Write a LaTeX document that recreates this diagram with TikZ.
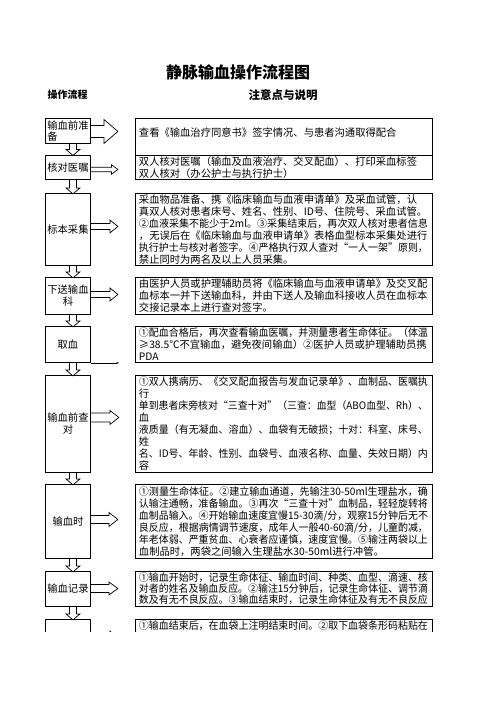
\documentclass[tikz,border=0pt]{standalone}
\usepackage{fontspec}
\usepackage{graphicx}
\setmainfont{Noto Sans CJK SC}
\usetikzlibrary{arrows.meta,positioning,calc}
\newcommand{\hollowright}[5]{%
 \draw[arrowline] ($(#1)+(0,-#3)$) -- ++({#2-#5},0) -- ++(0,{#3-#4}) -- ++(#5,#4) -- ++(-#5,#4) -- ++(0,{#3-#4}) -- ++({#5-#2},0);}
\newcommand{\hollowdown}[5]{%
 \draw[arrowline] ($(#1)+(-#3,0)$) -- ++(0,{#2-#5}) -- ++({#3-#4},0) -- ++(#4,#5) -- ++(#4,-#5) -- ++({#3-#4},0) -- ++(0,{#5-#2});}
\newcommand{\fitrow}[1]{\resizebox{\ifdim\width>289pt 289pt\else\width\fi}{\height}{#1}}

\begin{document}
\begin{tikzpicture}[x=1pt,y=-1pt,>=stealth,
 lbox/.style={draw,line width=0.9pt,minimum width=45pt,inner sep=1pt,anchor=north west,font=\fontsize{10.3}{12}\selectfont,align=center},
 rbox/.style={draw,line width=0.9pt,minimum width=297pt,text width=290pt,inner xsep=3pt,inner ysep=0pt,anchor=north west,font=\fontsize{10.3}{12}\selectfont,align=left},
 arrowline/.style={line width=0.7pt}]
 \useasboundingbox (0,0) rectangle (496,702);
 \node (title) at (238,72) {\fontsize{16}{16}\selectfont\bfseries 静脉输血操作流程图};
 \node (hflow) at (67.5,95) {\fontsize{10}{10}\selectfont\bfseries 操作流程};
 \node (hnote) at (283,95) {\fontsize{11.5}{11.5}\selectfont\bfseries 注意点与说明};

 \node[lbox,minimum height=25pt,align=left] (lb1) at (45,118) {输血前准\\[-1.5pt]备};
 \node[lbox,minimum height=24pt] (lb2) at (45,155) {核对医嘱};
 \node[lbox,minimum height=72pt] (lb3) at (45,193) {标本采集};
 \node[lbox,minimum height=37pt] (lb4) at (45,277) {下送输血\\科};
 \node[lbox,minimum height=36pt] (lb5) at (45,326) {取血};
 \node[lbox,minimum height=97pt] (lb6) at (45,375) {输血前查\\对};
 \node[lbox,minimum height=74pt] (lb7) at (45,484) {输血时};
 \node[lbox,minimum height=35pt] (lb8) at (45,571) {输血记录};

 \node[rbox,minimum height=37pt] (rb1) at (135,118) {\fitrow{查看《输血治疗同意书》签字情况、与患者沟通取得配合}\\[-3pt]\mbox{}};
 \node[rbox,minimum height=24pt] (rb2) at (135,155) {\fitrow{双人核对医嘱（输血及血液治疗、交叉配血）、打印采血标签}\\
 \fitrow{双人核对（办公护士与执行护士）}};
 \node[rbox,minimum height=72pt] (rb3) at (135,193) {\fitrow{采血物品准备、携《临床输血与血液申请单》及采血试管，认}\\
 \fitrow{真双人核对患者床号、姓名、性别、ID号、住院号、采血试管。}\\
 \fitrow{②血液采集不能少于2ml。③采集结束后，再次双人核对患者信息}\\
 \fitrow{，无误后在《临床输血与血液申请单》表格血型标本采集处进行}\\
 \fitrow{执行护士与核对者签字。④严格执行双人查对“一人一架”原则，}\\
 \fitrow{禁止同时为两名及以上人员采集。}};
 \node[rbox,minimum height=37pt] (rb4) at (135,277) {\fitrow{由医护人员或护理辅助员将《临床输血与血液申请单》及交叉配}\\
 \fitrow{血标本一并下送输血科，并由下送人及输血科接收人员在血标本}\\
 \fitrow{交接记录本上进行查对签字。}};
 \node[rbox,minimum height=36pt] (rb5) at (135,326) {\fitrow{①配血合格后，再次查看输血医嘱，并测量患者生命体征。（体温}\\
 \fitrow{≥38.5℃不宜输血，避免夜间输血）②医护人员或护理辅助员携}\\
 \fitrow{PDA}};
 \node[rbox,minimum height=97pt] (rb6) at (135,375) {\fitrow{①双人携病历、《交叉配血报告与发血记录单》、血制品、医嘱执}\\
 \fitrow{行}\\
 \fitrow{单到患者床旁核对“三查十对”（三查：血型（ABO血型、Rh）、}\\
 \fitrow{血}\\
 \fitrow{液质量（有无凝血、溶血）、血袋有无破损；十对：科室、床号、}\\
 \fitrow{姓}\\
 \fitrow{名、ID号、年龄、性别、血袋号、血液名称、血量、失效日期）内}\\
 \fitrow{容}};
 \node[rbox,minimum height=74pt] (rb7) at (135,484) {\fitrow{①测量生命体征。②建立输血通道，先输注30-50ml生理盐水，确}\\
 \fitrow{认输注通畅，准备输血。③再次“三查十对”血制品，轻轻旋转将}\\
 \fitrow{血制品输入。④开始输血速度宜慢15-30滴/分，观察15分钟后无不}\\
 \fitrow{良反应，根据病情调节速度，成年人一般40-60滴/分，儿童酌减，}\\
 \fitrow{年老体弱、严重贫血、心衰者应谨慎，速度宜慢。⑤输注两袋以上}\\
 \fitrow{血制品时，两袋之间输入生理盐水30-50ml进行冲管。}};
 \node[rbox,minimum height=35pt,font=\fontsize{10.3}{11}\selectfont] (rb8) at (135,571) {\fitrow{①输血开始时，记录生命体征、输血时间、种类、血型、滴速、核}\\
 \fitrow{对者的姓名及输血反应。②输注15分钟后，记录生命体征、调节滴}\\
 \fitrow{数及有无不良反应。③输血结束时，记录生命体征及有无不良反应}};

 \coordinate (a1) at ($(lb1.east)+(0,0.5)$);
 \coordinate (a2) at ($(lb2.east)+(0,2)$);
 \coordinate (a3) at ($(lb3.east)+(0,-3)$);
 \coordinate (a4) at ($(lb4.east)+(0,-1.5)$);
 \coordinate (a5) at ($(lb5.south east)+(28,0)$);
 \coordinate (a6) at ($(lb6.east)+(0,-6.5)$);
 \coordinate (a7) at ($(lb7.east)+(0,-2)$);
 \coordinate (a8) at ($(lb8.east)+(0,-0.5)$);
 \hollowright{a1}{27}{6}{12}{14}
 \hollowright{a2}{27}{2.3}{4.8}{6.5}
 \hollowright{a3}{27}{3}{6.5}{8}
 \hollowright{a4}{27}{3}{6.5}{8}
 \draw[-{Stealth[length=2.5pt,width=2pt]},line width=0.6pt] (lb5.south east) -- (a5);
 \hollowright{a6}{28}{4.5}{7}{9}
 \hollowright{a7}{27}{4}{7}{9}
 \hollowright{a8}{27}{4}{6.5}{9}

 \foreach \up/\gap in {lb1/11.5,lb2/14,lb3/12,lb4/12,lb5/13,lb6/12,lb7/13,lb8/13}{
 \coordinate (d) at ($(\up.south)+(5,0)$);
 \hollowdown{d}{\gap}{3.5}{7}{6}
 }

 \begin{scope}
 \clip (0,0) rectangle (496,631.5);
 \node[lbox,minimum height=40pt] (lb9) at (45,619) {};
 \node[rbox,minimum height=36pt] (rb9) at (135,619) {\fitrow{①输血结束后，在血袋上注明结束时间。②取下血袋条形码粘贴在}\\
 \mbox{}\\
 \mbox{}};
 \coordinate (a9) at ($(lb9.north east)+(0,19)$);
 \hollowright{a9}{27}{4}{7}{8}
 \end{scope}
\end{tikzpicture}
\end{document}
